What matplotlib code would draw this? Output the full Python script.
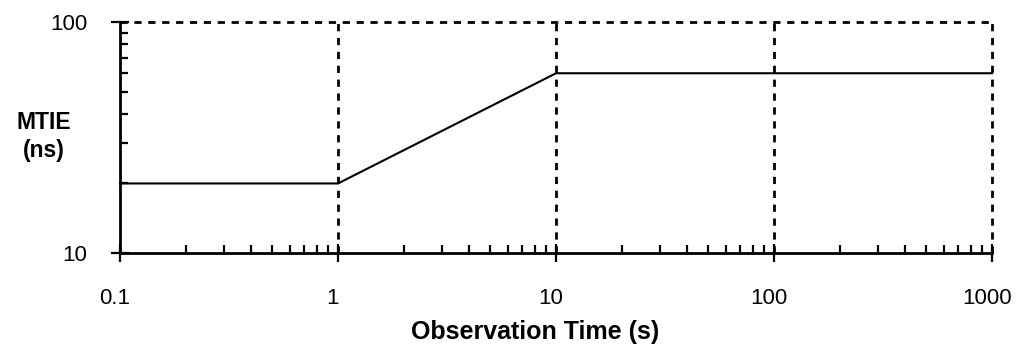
import numpy as np
import matplotlib.pyplot as plt
import matplotlib.transforms as mtransforms
from matplotlib.ticker import LogLocator, NullFormatter, FixedLocator, FixedFormatter

plt.rcParams['font.family'] = ['Liberation Sans', 'DejaVu Sans']

# MTIE mask
tau = [0.1, 1, 10, 1000]
mtie = [20, 20, 60, 60]

x_ticks = [0.1, 1, 10, 100, 1000]
x_labels = ['0.1', '1', '10', '100', '1000']
y_ticks = [10, 100]
y_labels = ['10', '100']

fig = plt.figure(figsize=(10.16, 3.49), dpi=100)
ax = fig.add_axes([120 / 1016, 1 - 253 / 349, 872 / 1016, 231 / 349])

ax.plot(tau, mtie, color='black', lw=1.5, zorder=3, clip_on=False)

ax.set_xscale('log')
ax.set_yscale('log')
ax.set_xlim(0.1, 1000)
ax.set_ylim(10, 100)

# dashed grid at the decades, dashed top/right frame
dash = (0, (2.6, 2.4))
for xv in x_ticks[1:]:
    ax.axvline(xv, color='black', lw=2, ls=dash, zorder=1, clip_on=False)
ax.axhline(100, color='black', lw=2, ls=dash, zorder=1, clip_on=False)
ax.spines['top'].set_visible(False)
ax.spines['right'].set_visible(False)
ax.spines['left'].set_linewidth(2)
ax.spines['bottom'].set_linewidth(2)

ax.xaxis.set_major_locator(FixedLocator(x_ticks))
ax.xaxis.set_major_formatter(FixedFormatter(x_labels))
ax.xaxis.set_minor_locator(LogLocator(base=10, subs=np.arange(2, 10)))
ax.xaxis.set_minor_formatter(NullFormatter())
ax.yaxis.set_major_locator(FixedLocator(y_ticks))
ax.yaxis.set_major_formatter(FixedFormatter(y_labels))
ax.yaxis.set_minor_locator(LogLocator(base=10, subs=np.arange(2, 10)))
ax.yaxis.set_minor_formatter(NullFormatter())

ax.tick_params(which='major', direction='inout', length=13, width=1.6, labelsize=16)
ax.tick_params(axis='x', which='major', pad=19)
ax.tick_params(axis='y', which='major', pad=17)
ax.tick_params(which='minor', direction='in', length=5.5, width=1.6)

# x labels sit a little left of their ticks in the original
shift = mtransforms.ScaledTranslation(-5 / 100, 0, fig.dpi_scale_trans)
for lab in ax.get_xticklabels():
    lab.set_transform(lab.get_transform() + shift)

ax.set_xlabel('Observation Time (s)', fontsize=18, fontweight='bold', va='center')
ax.xaxis.set_label_coords(0.476, -0.342)
ax.set_ylabel('MTIE\n(ns)', fontsize=16.5, fontweight='bold', rotation=0,
              ha='center', va='center', linespacing=1.25)
ax.yaxis.set_label_coords(-0.087, 0.505)

fig.savefig('out.png', dpi=100)
